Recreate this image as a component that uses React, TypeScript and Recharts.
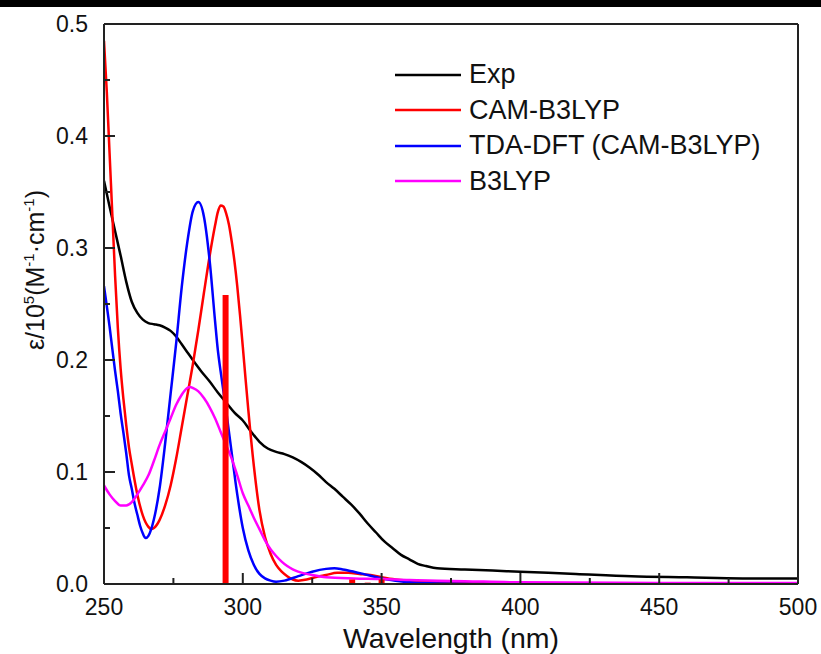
import { LineChart, Line, XAxis, YAxis, Legend } from "recharts";

// wavelength (nm) -> epsilon / 1e5 (M^-1 cm^-1)
const expSpectrum = [
  [250, 0.36], [252, 0.337], [254, 0.315], [256, 0.293], [258, 0.27], [260, 0.252],
  [262, 0.242], [264, 0.236], [266, 0.233], [268, 0.232], [270, 0.231], [272, 0.229],
  [274, 0.226], [276, 0.221], [278, 0.214], [280, 0.207], [282, 0.2], [285, 0.19],
  [288, 0.181], [291, 0.171], [294, 0.162], [297, 0.153], [300, 0.146], [303, 0.136],
  [306, 0.127], [309, 0.121], [312, 0.118], [315, 0.116], [318, 0.113], [321, 0.109],
  [324, 0.104], [327, 0.098], [330, 0.091], [333, 0.085], [336, 0.078], [339, 0.071],
  [342, 0.063], [345, 0.054], [348, 0.046], [351, 0.038], [354, 0.032], [357, 0.026],
  [360, 0.022], [363, 0.018], [366, 0.016], [370, 0.014], [380, 0.013], [390, 0.012],
  [400, 0.011], [420, 0.009], [440, 0.007], [460, 0.006], [480, 0.005], [500, 0.005],
];

const camSpectrum = [
  [250, 0.485], [251, 0.44], [252, 0.385], [253, 0.33], [254, 0.275], [255, 0.228],
  [256, 0.192], [257, 0.165], [258, 0.142], [259, 0.122], [260, 0.107], [262, 0.08],
  [264, 0.061], [266, 0.051], [267, 0.049], [268, 0.05], [270, 0.057], [272, 0.07],
  [274, 0.088], [276, 0.112], [278, 0.14], [280, 0.168], [282, 0.196], [284, 0.227],
  [286, 0.26], [288, 0.292], [290, 0.32], [291, 0.332], [292, 0.338], [293, 0.337],
  [294, 0.331], [295, 0.321], [296, 0.306], [297, 0.288], [298, 0.266], [299, 0.24],
  [300, 0.212], [301, 0.183], [302, 0.155], [304, 0.105], [306, 0.066], [308, 0.042],
  [310, 0.027], [312, 0.017], [314, 0.011], [316, 0.007], [318, 0.004], [320, 0.003],
  [323, 0.004], [326, 0.006], [330, 0.008], [334, 0.01], [338, 0.01], [342, 0.009],
  [346, 0.008], [350, 0.006], [355, 0.004], [360, 0.003], [370, 0.002], [380, 0.001],
  [400, 0.0005], [500, 0],
];

const tdaSpectrum = [
  [250, 0.266], [252, 0.23], [253, 0.21], [254, 0.19], [255, 0.172], [256, 0.152],
  [257, 0.135], [258, 0.117], [259, 0.097], [260, 0.085], [261, 0.072], [262, 0.062],
  [263, 0.052], [264, 0.045], [265, 0.041], [266, 0.043], [268, 0.058], [270, 0.085],
  [272, 0.125], [274, 0.17], [276, 0.215], [278, 0.265], [280, 0.305], [282, 0.333],
  [284, 0.341], [286, 0.328], [288, 0.29], [290, 0.235], [291, 0.209], [292, 0.19],
  [294, 0.155], [296, 0.117], [298, 0.08], [300, 0.05], [302, 0.03], [304, 0.017],
  [306, 0.009], [308, 0.005], [310, 0.003], [312, 0.002], [315, 0.003], [320, 0.007],
  [325, 0.011], [330, 0.0135], [333, 0.014], [336, 0.013], [340, 0.011], [345, 0.008],
  [350, 0.005], [355, 0.003], [360, 0.0015], [370, 0.0005], [400, 0], [500, 0],
];

const b3lypSpectrum = [
  [250, 0.088], [252, 0.08], [254, 0.074], [256, 0.07], [258, 0.07], [260, 0.073],
  [262, 0.08], [264, 0.088], [266, 0.097], [268, 0.11], [270, 0.124], [272, 0.136],
  [274, 0.148], [276, 0.16], [278, 0.169], [280, 0.175], [281, 0.176], [282, 0.175],
  [284, 0.172], [286, 0.166], [288, 0.158], [290, 0.148], [292, 0.136], [294, 0.124],
  [296, 0.112], [298, 0.097], [300, 0.081], [302, 0.07], [304, 0.059], [306, 0.049],
  [308, 0.039], [310, 0.031], [312, 0.025], [314, 0.02], [316, 0.016], [318, 0.013],
  [320, 0.011], [325, 0.008], [330, 0.006], [340, 0.005], [350, 0.0045], [360, 0.0035],
  [370, 0.003], [380, 0.0025], [400, 0.0015], [450, 0.001], [500, 0.001],
];

// CAM-B3LYP oscillator sticks
const camSticks = [
  [293.8, 0.258], [339.4, 0.004], [345, 0.0012], [350, 0.004],
];

const xTicks = [250, 275, 300, 325, 350, 375, 400, 425, 450, 475, 500];
const yTicks = [0, 0.05, 0.1, 0.15, 0.2, 0.25, 0.3, 0.35, 0.4, 0.45, 0.5];

const series = [
  { name: "Exp", color: "#000000", data: expSpectrum },
  { name: "CAM-B3LYP", color: "#ff0000", data: camSpectrum },
  { name: "TDA-DFT (CAM-B3LYP)", color: "#0000ff", data: tdaSpectrum },
  { name: "B3LYP", color: "#ff00ff", data: b3lypSpectrum },
];

const FONT = "'Liberation Sans', Arial, sans-serif";
const AXIS = "#222";

const toPoints = (arr: number[][]) => arr.map(([x, y]) => ({ x, y }));

const XTick = (props: any) => {
  const { x, y, payload } = props;
  const major = payload.value % 50 === 0;
  return (
    <g>
      <line x1={x} x2={x} y1={y} y2={y - (major ? 11 : 6)} stroke={AXIS} strokeWidth={2} />
      {major && (
        <text x={x} y={y + 31} textAnchor="middle" fontSize={23} fontFamily={FONT} fill="#111">
          {payload.value}
        </text>
      )}
    </g>
  );
};

const YTick = (props: any) => {
  const { x, y, payload } = props;
  const major = Math.round(payload.value * 100) % 10 === 0;
  return (
    <g>
      <line x1={x} x2={x + (major ? 11 : 6)} y1={y} y2={y} stroke={AXIS} strokeWidth={2} />
      {major && (
        <text x={x - 16} y={y + 8} textAnchor="end" fontSize={23} fontFamily={FONT} fill="#111">
          {payload.value.toFixed(1)}
        </text>
      )}
    </g>
  );
};

const XTitle = (props: any) => {
  const { x, y, width } = props.viewBox;
  return (
    <text x={x + width / 2} y={y + 64} textAnchor="middle" fontSize={28.5} fontFamily={FONT} fill="#111">
      Wavelength (nm)
    </text>
  );
};

const YTitle = () => {
  const cx = 44;
  const cy = 270;
  return (
    <text
      x={cx}
      y={cy}
      transform={`rotate(-90, ${cx}, ${cy})`}
      textAnchor="middle"
      fontSize={25}
      fontFamily={FONT}
      fill="#111"
    >
      ε/10
      <tspan dy={-10} fontSize={15}>5</tspan>
      <tspan dy={10}>(M</tspan>
      <tspan dy={-10} fontSize={15}>-1</tspan>
      <tspan dy={10}>·cm</tspan>
      <tspan dy={-10} fontSize={15}>-1</tspan>
      <tspan dy={10}>)</tspan>
    </text>
  );
};

const renderLegend = () => (
  <div style={{ fontFamily: FONT, fontSize: 27, color: "#111" }}>
    {series.map((s) => (
      <div key={s.name} style={{ display: "flex", alignItems: "center", height: 35.5 }}>
        <svg width={66} height={4} style={{ marginRight: 8 }}>
          <line x1={0} x2={66} y1={2} y2={2} stroke={s.color} strokeWidth={2.5} />
        </svg>
        <span style={{ whiteSpace: "nowrap" }}>{s.name}</span>
      </div>
    ))}
  </div>
);

export default function App() {
  return (
    <div style={{ position: "absolute", left: 0, top: 0, width: 821, height: 654, background: "#fff" }}>
      <div style={{ position: "absolute", left: 0, top: 0, width: 821, height: 7, background: "#000" }} />
      <LineChart width={821} height={654} margin={{ top: 23, right: 22, bottom: 69, left: 103 }}>
        <XAxis
          dataKey="x"
          type="number"
          domain={[250, 500]}
          ticks={xTicks}
          interval={0}
          allowDataOverflow
          height={1}
          tickSize={0}
          tickMargin={0}
          tickLine={false}
          tick={<XTick />}
          axisLine={{ stroke: AXIS, strokeWidth: 2 }}
          label={{ content: XTitle }}
        />
        <XAxis
          xAxisId="top"
          orientation="top"
          type="number"
          domain={[250, 500]}
          height={1}
          tick={false}
          tickLine={false}
          axisLine={{ stroke: AXIS, strokeWidth: 2 }}
        />
        <YAxis
          type="number"
          domain={[0, 0.5]}
          ticks={yTicks}
          interval={0}
          allowDataOverflow
          width={1}
          tickSize={0}
          tickMargin={0}
          tickLine={false}
          tick={<YTick />}
          axisLine={{ stroke: AXIS, strokeWidth: 2 }}
          label={{ content: YTitle }}
        />
        <YAxis
          yAxisId="right"
          orientation="right"
          type="number"
          domain={[0, 0.5]}
          width={1}
          tick={false}
          tickLine={false}
          axisLine={{ stroke: AXIS, strokeWidth: 2 }}
        />
        <Legend
          layout="horizontal"
          verticalAlign="middle"
          align="center"
          content={renderLegend}
          wrapperStyle={{ left: 395, top: 57, width: 400, height: 142 }}
        />
        {series.map((s) => (
          <Line
            key={s.name}
            name={s.name}
            data={toPoints(s.data)}
            dataKey="y"
            type="monotone"
            stroke={s.color}
            strokeWidth={2.5}
            dot={false}
            activeDot={false}
            isAnimationActive={false}
          />
        ))}
        {camSticks.map(([wl, f], i) => (
          <Line
            key={`stick-${i}`}
            data={[{ x: wl, y: 0 }, { x: wl, y: f }]}
            dataKey="y"
            type="linear"
            stroke="#ff0000"
            strokeWidth={6}
            strokeLinecap="butt"
            dot={false}
            activeDot={false}
            legendType="none"
            isAnimationActive={false}
          />
        ))}
      </LineChart>
    </div>
  );
}
